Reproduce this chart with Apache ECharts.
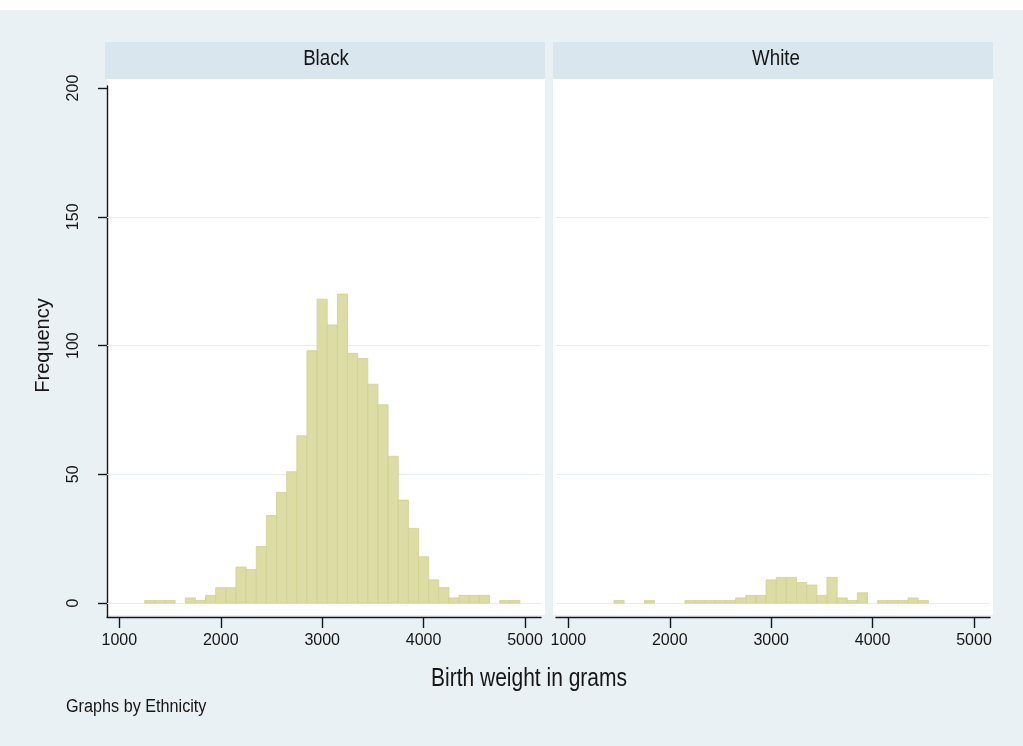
<!DOCTYPE html>
<html>
<head>
<meta charset="utf-8">
<script src="https://cdn.jsdelivr.net/npm/echarts@6/dist/echarts.min.js"></script>
<style>
  html, body { margin: 0; padding: 0; background: #ffffff; }
  #chart { width: 1023px; height: 746px; }
</style>
</head>
<body>
<div id="chart"></div>
<script>
// Birth weight histograms, one panel per ethnicity (bins of 100 g from 1250 g)
const panels = ['Black', 'White'];
const binStart = 1250;
const binWidth = 100;
const blackCounts = [1, 1, 1, 0, 2, 1, 3, 6, 6, 14, 13, 22, 34, 43, 51, 65, 98, 118, 108, 120,
                     97, 95, 85, 77, 57, 40, 29, 18, 9, 6, 2, 3, 3, 3, 0, 1, 1];
const whiteCounts = [0, 0, 1, 0, 0, 1, 0, 0, 0, 1, 1, 1, 1, 1, 2, 3, 3, 9, 10, 10,
                     8, 7, 3, 10, 2, 1, 4, 0, 1, 1, 1, 2, 1, 0, 0, 0, 0];
const xTicks = [1000, 2000, 3000, 4000, 5000];
const yTicks = [0, 50, 100, 150, 200];
const gridTicks = [0, 50, 100, 150];

const FONT = "'Liberation Sans', Arial, sans-serif";
const INK = '#161616';
const PAGE_BG = '#e9f1f4';
const STRIP_BG = '#d9e6ee';
const BAR_FILL = '#dcdca5';
const BAR_EDGE = '#d0d192';

function toBins(counts) {
  return counts.map((c, i) => [binStart + i * binWidth, binStart + (i + 1) * binWidth, c]);
}

function renderBin(params, api) {
  const c = api.value(2);
  if (!c) return null;
  const p0 = api.coord([api.value(0), c]);
  const p1 = api.coord([api.value(1), 0]);
  return {
    type: 'rect',
    shape: { x: p0[0], y: p0[1], width: p1[0] - p0[0], height: p1[1] - p0[1] },
    style: { fill: BAR_FILL, stroke: BAR_EDGE, lineWidth: 0.8 }
  };
}

const plain = v => String(v);

const panelLeft = [107, 556];
const panelWidth = 434;

const grids = panelLeft.map(l => ({ left: l, top: 86, width: panelWidth, height: 531 }));

const xAxes = panelLeft.map((l, i) => ({
  type: 'value', gridIndex: i, min: 878, max: 5158,
  axisLine: { show: true, onZero: false, lineStyle: { color: INK, width: 1.4 } },
  axisTick: { show: true, length: 11, customValues: xTicks, lineStyle: { color: INK, width: 1.4 } },
  axisLabel: { customValues: xTicks, formatter: plain, margin: 16, color: INK, fontFamily: FONT, fontSize: 16 },
  splitLine: { show: false }
}));

const yAxes = panelLeft.map((l, i) => ({
  type: 'value', gridIndex: i, min: -5.4, max: 200.8,
  axisLine: { show: i === 0, lineStyle: { color: INK, width: 1.4 } },
  axisTick: { show: i === 0, length: 9, customValues: yTicks, lineStyle: { color: INK, width: 1.4 } },
  axisLabel: { show: i === 0, customValues: yTicks, formatter: plain, rotate: 90, margin: 25, color: INK, fontFamily: FONT, fontSize: 16 },
  splitLine: { show: false },
  name: i === 0 ? 'Frequency' : '',
  nameLocation: 'middle', nameGap: 54,
  nameTextStyle: { color: INK, fontFamily: FONT, fontSize: 20, padding: [0, 0, 0, 12] }
}));

const seriesData = [blackCounts, whiteCounts];
const series = seriesData.map((counts, i) => ({
  type: 'custom', name: panels[i], xAxisIndex: i, yAxisIndex: i, z: 3,
  renderItem: renderBin,
  encode: { x: [0, 1], y: 2 },
  data: toBins(counts),
  markLine: {
    silent: true, symbol: 'none', z: 1, animation: false,
    label: { show: false },
    lineStyle: { color: '#e6eef1', width: 1.2, type: 'solid' },
    data: gridTicks.map(v => ({ yAxis: v }))
  }
}));

const graphic = [
  // plot regions
  { type: 'rect', z: -10, shape: { x: 107, y: 79, width: 438, height: 536 }, style: { fill: '#ffffff' } },
  { type: 'rect', z: -10, shape: { x: 553, y: 79, width: 440, height: 536 }, style: { fill: '#ffffff' } },
  // panel header strips
  { type: 'rect', z: -10, shape: { x: 105, y: 42, width: 440, height: 37 }, style: { fill: STRIP_BG } },
  { type: 'rect', z: -10, shape: { x: 553, y: 42, width: 440, height: 37 }, style: { fill: STRIP_BG } },
  // white band along the top edge
  { type: 'rect', z: -10, shape: { x: 0, y: 0, width: 1023, height: 10 }, style: { fill: '#ffffff' } },
  // condensed-looking titles
  { type: 'text', x: 326, y: 59, scaleX: 0.85, style: { text: panels[0], fill: INK, font: `22px ${FONT}`, align: 'center', verticalAlign: 'middle' } },
  { type: 'text', x: 776, y: 59, scaleX: 0.85, style: { text: panels[1], fill: INK, font: `22px ${FONT}`, align: 'center', verticalAlign: 'middle' } },
  { type: 'text', x: 529, y: 679, scaleX: 0.84, style: { text: 'Birth weight in grams', fill: INK, font: `25px ${FONT}`, align: 'center', verticalAlign: 'middle' } },
  { type: 'text', x: 66, y: 707, scaleX: 0.9, style: { text: 'Graphs by Ethnicity', fill: INK, font: `18px ${FONT}`, align: 'left', verticalAlign: 'middle' } }
];

const chart = echarts.init(document.getElementById('chart'), null, { renderer: 'canvas' });
chart.setOption({
  animation: false,
  backgroundColor: PAGE_BG,
  grid: grids,
  xAxis: xAxes,
  yAxis: yAxes,
  series: series,
  graphic: graphic
});
</script>
</body>
</html>
